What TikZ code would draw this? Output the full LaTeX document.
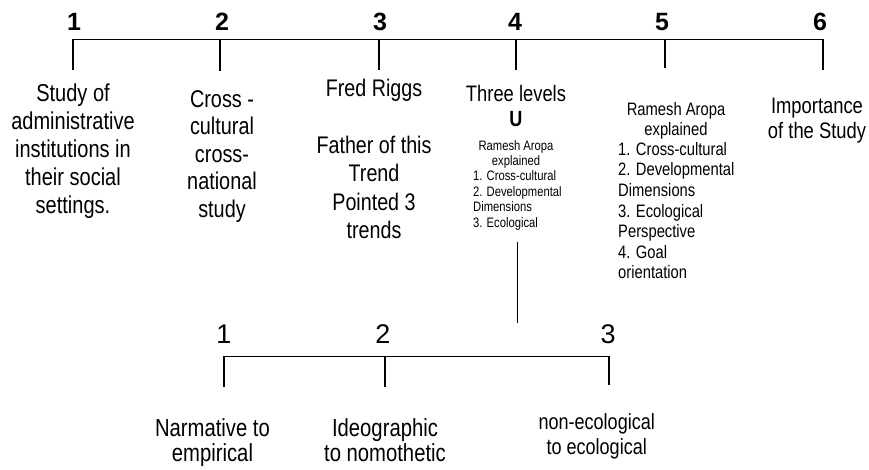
\documentclass[tikz,border=0pt]{standalone}
\usepackage{fontspec}
\setmainfont{Liberation Sans}[FakeStretch=0.82]
\newfontfamily\widesf{Liberation Sans}

\begin{document}
\begin{tikzpicture}[line join=miter,x=1pt,y=-1pt,
		bar/.style={line width=1.5pt},
		topnum/.style={inner sep=0pt,anchor=base,font=\widesf\fontsize{25}{25}\selectfont\bfseries},
		lownum/.style={inner sep=0pt,anchor=base,font=\widesf\fontsize{27}{27}\selectfont},
		txt/.style={inner sep=0pt,anchor=north,align=center}]%timeline
	\useasboundingbox (0,0) rectangle (869,470);
	\coordinate (t1) at (73,39.5);
	\coordinate (t2) at (220,39.5);
	\coordinate (t3) at (379,39.5);
	\coordinate (t4) at (516,39.5);
	\coordinate (t5) at (665,39.5);
	\coordinate (t6) at (823,39.5);
	\coordinate (b1) at (73,70);
	\coordinate (b2) at (220,71);
	\coordinate (b3) at (379,70);
	\coordinate (b4) at (516,70);
	\coordinate (b5) at (665,68);
	\coordinate (b6) at (823,70);
	\draw [bar] (b1)-- (t1)-- (t6)-- (b6);
	\draw [bar] (t2)-- (b2);
	\draw [bar] (t3)-- (b3);
	\draw [bar] (t4)-- (b4);
	\draw [bar] (t5)-- (b5);
	\node[topnum] (n1) at (74,30.5) {1};
	\node[topnum] (n2) at (222,30.5) {2};
	\node[topnum] (n3) at (380,30.5) {3};
	\node[topnum] (n4) at (515,30.5) {4};
	\node[topnum] (n5) at (662,30.5) {5};
	\node[topnum] (n6) at (820,30.5) {6};
	\node[txt,font=\fontsize{24.4}{28}\selectfont] (study) at (73,83.3) {Study of\\administrative\\institutions in\\their social\\settings.};
	\node[txt,font=\fontsize{24.2}{27.5}\selectfont] (cross) at (222,90) {Cross -\\cultural\\cross-\\national\\study};
	\node[txt,font=\fontsize{24}{28.4}\selectfont] (riggs) at (374,79) {Fred Riggs\\[28.4pt]Father of this\\Trend\\Pointed 3\\trends};
	\node[txt,font=\fontsize{22.4}{25}\selectfont] (levels) at (516,85) {Three levels};
	\node[txt,font=\fontsize{22}{22}\selectfont\bfseries] (u) at (516,110.7) {U};
	\node[txt,font=\fontsize{13.7}{15.5}\selectfont] (aropa4) at (516,140) {Ramesh Aropa\\explained};
	\node[txt,anchor=north west,align=left,font=\fontsize{13.7}{15.5}\selectfont] (list4) at (473,170.7) {1. Cross-cultural\\2. Developmental\\Dimensions\\3. Ecological};
	\node[txt,font=\fontsize{18}{20.6}\selectfont] (aropa5) at (676,102) {Ramesh Aropa\\explained};
	\node[txt,anchor=north west,align=left,font=\fontsize{18}{20.6}\selectfont] (list5) at (618,142) {1. Cross-cultural\\2. Developmental\\Dimensions\\3. Ecological\\Perspective\\4. Goal\\orientation};
	\node[txt,font=\fontsize{22.4}{25}\selectfont] (importance) at (817,98) {Importance\\of the Study};
	% three trends
	\coordinate (d4) at (517.5,242);
	\coordinate (e4) at (517.5,323);
	\draw [bar] (d4)-- (e4);
	\coordinate (s1) at (224,356.7);
	\coordinate (s2) at (385,356.7);
	\coordinate (s3) at (609,356.7);
	\coordinate (r1) at (224,386.7);
	\coordinate (r2) at (385,386.7);
	\coordinate (r3) at (609,385);
	\draw [bar] (r1)-- (s1)-- (s3)-- (r3);
	\draw [bar] (s2)-- (r2);
	\node[lownum] (m1) at (224,343) {1};
	\node[lownum] (m2) at (383,343) {2};
	\node[lownum] (m3) at (608,343) {3};
	\node[txt,font=\fontsize{24.7}{25}\selectfont] (empirical) at (212.5,418) {Narmative to\\empirical};
	\node[txt,font=\fontsize{24.7}{25}\selectfont] (nomothetic) at (385,418) {Ideographic\\to nomothetic};
	\node[txt,font=\fontsize{22}{25}\selectfont] (ecological) at (596.7,413) {non-ecological\\to ecological};
\end{tikzpicture}
\end{document}
